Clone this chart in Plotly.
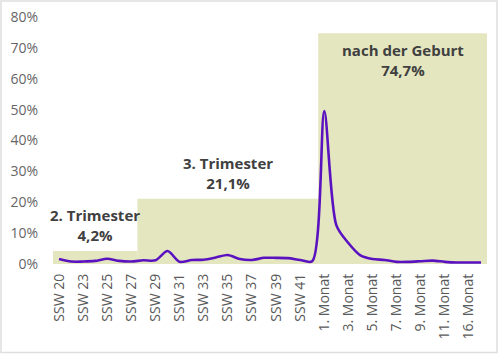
import plotly.graph_objects as go

categories = [
    "SSW 20", "SSW 22", "SSW 23", "SSW 24", "SSW 25", "SSW 26", "SSW 27", "SSW 28",
    "SSW 29", "SSW 30", "SSW 31", "SSW 32", "SSW 33", "SSW 34", "SSW 35", "SSW 36",
    "SSW 37", "SSW 38", "SSW 39", "SSW 40", "SSW 41", "SSW 42",
    "1. Monat", "2. Monat", "3. Monat", "4. Monat", "5. Monat", "6. Monat",
    "7. Monat", "8. Monat", "9. Monat", "10. Monat", "11. Monat", "13. Monat",
    "16. Monat", "24. Monat",
]
values = [
    1.6, 0.8, 0.8, 1.0, 1.7, 1.0, 0.8, 1.2, 1.2, 4.2, 0.7, 1.3, 1.4, 2.1, 2.9, 1.6,
    1.3, 2.0, 2.0, 1.9, 1.3, 0.9,
    49.5, 12.6, 6.8, 2.8, 1.6, 1.3, 0.7, 0.7, 0.9, 1.1, 0.7, 0.5, 0.5, 0.5,
]
tick_labels = categories[::2]

period_names = ["2. Trimester", "3. Trimester", "nach der Geburt"]
period_values = [4.2, 21.1, 74.7]
period_start = ["SSW 20", "SSW 28", "1. Monat"]

fig = go.Figure()

starts = [categories.index(s) - 0.5 for s in period_start]
ends = starts[1:] + [len(categories) - 0.5]
for name, v, x0, x1 in zip(period_names, period_values, starts, ends):
    fig.add_shape(type="rect", xref="x", yref="y", x0=x0, x1=x1, y0=0, y1=v,
                  fillcolor="#e4e6bf", line_width=0, layer="below")
    label = f"{name}<br>{str(v).replace('.', ',')}%"
    inside = v > 60
    fig.add_annotation(x=(x0 + x1) / 2, y=v - 1.5 if inside else v + 1.2,
                       xref="x", yref="y", text=label, showarrow=False,
                       yanchor="top" if inside else "bottom",
                       font=dict(family="Open Sans", size=15, color="#404040", weight="bold"))

fig.add_trace(go.Scatter(
    x=list(range(len(categories))), y=values, mode="lines",
    line=dict(color="#5a12c0", width=2.6, shape="spline", smoothing=0.8),
    hoverinfo="skip", showlegend=False,
))

W, L, R, T, B = 434, 53, 13, 17, 90
H = 354 - T - B
fig.add_shape(type="rect", xref="paper", yref="paper",
              x0=(1 - L) / W, x1=(497 - L) / W,
              y0=(354 - B - 352.5) / H, y1=(354 - B - 1) / H,
              line=dict(color="#dedede", width=1.5), fillcolor="rgba(0,0,0,0)")

fig.update_layout(
    width=500, height=354,
    margin=dict(l=L, r=R, t=T, b=B, autoexpand=False),
    paper_bgcolor="white", plot_bgcolor="white",
    font=dict(family="Open Sans", size=14, color="#595959"),
    xaxis=dict(
        range=[-0.5, len(categories) - 0.5],
        tickmode="array",
        tickvals=list(range(0, len(categories), 2)),
        ticktext=tick_labels,
        tickangle=-90, showgrid=False, zeroline=False, showline=False,
        ticks="", ticklabelstandoff=6, automargin=False,
        tickfont=dict(size=14, color="#595959"),
    ),
    yaxis=dict(
        range=[0, 80], dtick=10, ticksuffix="%",
        showgrid=False, zeroline=False, showline=False, ticks="",
        ticklabelstandoff=14, automargin=False,
        tickfont=dict(size=14, color="#666666"),
    ),
)

fig.write_html("out.html")
